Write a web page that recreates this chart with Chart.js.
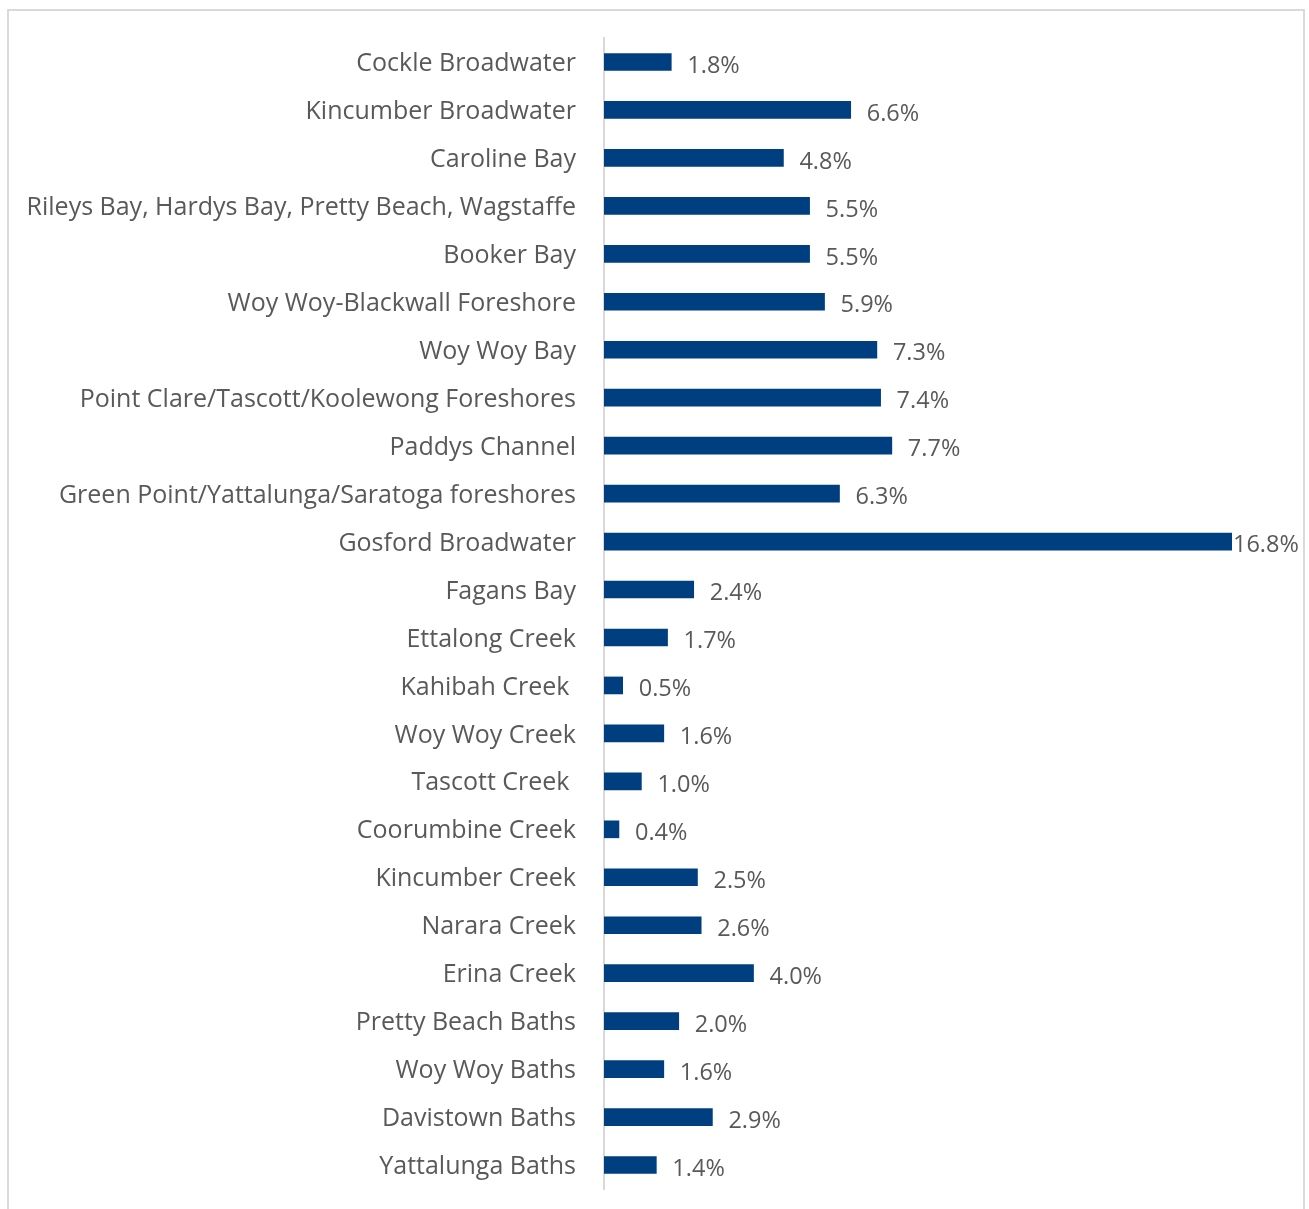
<!DOCTYPE html>
<html>
<head>
<meta charset="utf-8">
<script src="https://cdn.jsdelivr.net/npm/chart.js@4.4.0/dist/chart.umd.min.js"></script>
<style>
  html, body { margin: 0; padding: 0; background: #fff; }
  #wrap { position: relative; width: 1309px; height: 1209px; overflow: hidden; }
  #frame {
    position: absolute; left: 7px; top: 9px; width: 1298px; height: 1220px;
    border: 2px solid #d9d9d9; box-sizing: border-box;
  }
  canvas { position: absolute; left: 0; top: 0; }
</style>
</head>
<body>
<div id="wrap">
  <div id="frame"></div>
  <canvas id="chart" width="1309" height="1209"></canvas>
</div>
<script>
// ─── DATA ─────────────────────────────────────────────
const CATEGORIES = [
  'Cockle Broadwater',
  'Kincumber Broadwater',
  'Caroline Bay',
  'Rileys Bay, Hardys Bay, Pretty Beach, Wagstaffe',
  'Booker Bay',
  'Woy Woy-Blackwall Foreshore',
  'Woy Woy Bay',
  'Point Clare/Tascott/Koolewong Foreshores',
  'Paddys Channel',
  'Green Point/Yattalunga/Saratoga foreshores',
  'Gosford Broadwater',
  'Fagans Bay',
  'Ettalong Creek',
  'Kahibah Creek ',
  'Woy Woy Creek',
  'Tascott Creek ',
  'Coorumbine Creek',
  'Kincumber Creek',
  'Narara Creek',
  'Erina Creek',
  'Pretty Beach Baths',
  'Woy Woy Baths',
  'Davistown Baths',
  'Yattalunga Baths'
];
const SHARES = [1.8, 6.6, 4.8, 5.5, 5.5, 5.9, 7.3, 7.4, 7.7, 6.3, 16.8, 2.4, 1.7, 0.5, 1.6, 1.0, 0.4, 2.5, 2.6, 4.0, 2.0, 1.6, 2.9, 1.4];

const FONT = '"Open Sans", "DejaVu Sans", sans-serif';
const TEXT = '#595959';
const BAR = '#003f7f';

// ─── VALUE LABELS ────────────────────────────────────
const valueLabels = {
  id: 'valueLabels',
  afterDatasetsDraw(chart) {
    const ctx = chart.ctx;
    const meta = chart.getDatasetMeta(0);
    ctx.save();
    ctx.font = '23.5px ' + FONT;
    ctx.fillStyle = TEXT;
    ctx.textAlign = 'left';
    ctx.textBaseline = 'middle';
    meta.data.forEach((bar, i) => {
      const txt = SHARES[i].toFixed(1) + '%';
      const w = ctx.measureText(txt).width;
      let x = bar.x + 16;
      // long bar: label squeezed against the bar end, as in the original
      if (x + w > chart.width - 8) x = bar.x + 1;
      ctx.fillText(txt, x, bar.y + 4);
    });
    ctx.restore();
  }
};

new Chart(document.getElementById('chart'), {
  type: 'bar',
  data: {
    labels: CATEGORIES,
    datasets: [{
      data: SHARES,
      backgroundColor: BAR,
      barThickness: 17
    }]
  },
  options: {
    indexAxis: 'y',
    responsive: false,
    animation: false,
    layout: { padding: { top: 38, bottom: 20, right: 77, left: 0 } },
    plugins: { legend: { display: false }, tooltip: { enabled: false } },
    scales: {
      x: { display: false, min: 0, max: 16.8 },
      y: {
        afterFit(scale) {
          scale.width = 604;
          scale.paddingTop = 0;
          scale.paddingBottom = 0;
        },
        grid: { display: false, drawTicks: false },
        border: { display: true, color: '#d9d9d9', width: 2 },
        ticks: {
          color: TEXT,
          padding: 28,
          labelOffset: 2,
          font: { family: FONT, size: 25 }
        }
      }
    }
  },
  plugins: [valueLabels]
});
</script>
</body>
</html>
